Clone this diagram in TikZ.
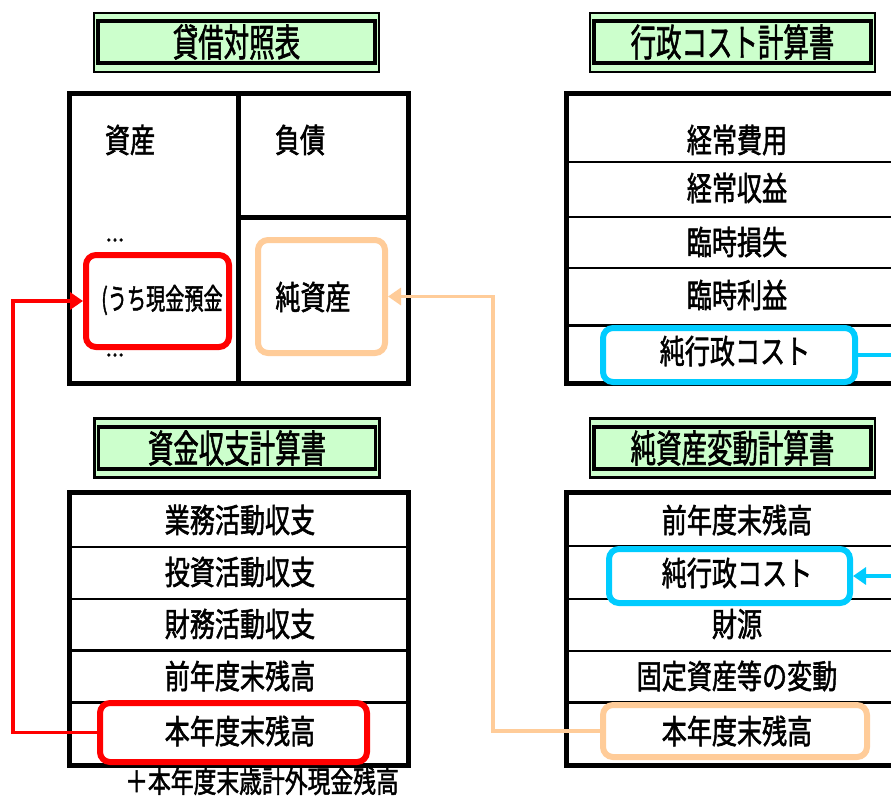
\documentclass[tikz,border=0pt]{standalone}
\usepackage{graphicx}
\usepackage{fontspec}
\newfontfamily\jp[FakeBold=1.8]{Noto Sans CJK JP}
\usetikzlibrary{arrows.meta}
\definecolor{tgreen}{HTML}{CCFFCC}
\definecolor{cred}{HTML}{FF0000}
\definecolor{corange}{HTML}{FFCC99}
\definecolor{cblue}{HTML}{00CCFF}
\newcommand\titlefont{\jp\fontsize{38}{38}\selectfont}
\newcommand\cellfont{\jp\fontsize{33}{33}\selectfont}
\newcommand\smallfont{\jp\fontsize{29}{29}\selectfont}
\newcommand\notefont{\jp\fontsize{30}{30}\selectfont}
\newcommand\tsx[1]{\scalebox{0.67}[1]{#1}}
\newcommand\csx[1]{\scalebox{0.76}[1]{#1}}
\tikzset{
  titleouter/.style={draw=black, line width=2.5pt, fill=tgreen, minimum width=285pt, minimum height=59pt, inner sep=0pt},
  titleinner/.style={draw=black, line width=3.5pt, minimum width=277pt, minimum height=42pt, inner sep=0pt, font=\titlefont},
  tableborder/.style={draw=black, line width=5pt},
  thinrow/.style={draw=black, line width=1.3pt},
  thickrow/.style={draw=black, line width=3pt},
  cell/.style={inner sep=0pt, font=\cellfont},
  hlbox/.style={fill=white, line width=6pt, rounded corners=10pt, inner sep=0pt},
  redbox/.style={hlbox, draw=cred},
  orangebox/.style={hlbox, draw=corange},
  bluebox/.style={hlbox, draw=cblue},
  conn/.style={line width=3.5pt, -{Triangle[length=13pt,width=17pt]}},
}
\begin{document}
\begin{tikzpicture}[x=1pt,y=-1pt]
\useasboundingbox (0,0) rectangle (891,796);
\clip (0,0) rectangle (891,796);
\fill[white] (0,0) rectangle (891,796);

% ---------- titles ----------
\node[titleouter] (t1o) at (236.5,42.5) {};
\node[titleinner] (t1) at (236.5,42) {\tsx{貸借対照表}};
\node[titleouter] (t2o) at (732.5,42.5) {};
\node[titleinner] (t2) at (732.5,42) {\tsx{行政コスト計算書}};
\node[titleouter] (t3o) at (237,448) {};
\node[titleinner] (t3) at (237,448) {\tsx{資金収支計算書}};
\node[titleouter] (t4o) at (732.5,448) {};
\node[titleinner] (t4) at (732.5,448) {\tsx{純資産変動計算書}};

% ---------- table 1: balance sheet ----------
\draw[tableborder] (69,93) rectangle (408,383);
\draw[tableborder] (238,93) -- (238,383);
\draw[tableborder] (238,217) -- (408,217);
\node[cell] (bs1) at (130,140) {\csx{資産}};
\node[cell] (bs2) at (300,140) {\csx{負債}};
\node[inner sep=0pt, font=\jp\fontsize{22}{22}\selectfont] (dots1) at (115,240) {...};
\node[inner sep=0pt, font=\jp\fontsize{22}{22}\selectfont] (dots2) at (115,355) {...};
\node[redbox, minimum width=143pt, minimum height=92pt] (red1) at (157.5,301) {};
\node[inner sep=0pt, font=\smallfont] (cash) at (162,300) {\scalebox{0.66}[1]{(うち現金預金}};
\node[orangebox, minimum width=127pt, minimum height=113pt] (or1) at (321.5,296.5) {};
\node[cell] (na) at (313,297) {\csx{純資産}};

% ---------- table 2: cost statement ----------
\draw[tableborder] (566,93) rectangle (910,383);
\draw[thinrow] (566,162) -- (910,162);
\draw[thinrow] (566,217) -- (910,217);
\draw[thinrow] (566,268) -- (910,268);
\draw[thickrow] (566,325) -- (910,325);
\node[cell] (c1) at (737,140) {\csx{経常費用}};
\node[cell] (c2) at (737,188) {\csx{経常収益}};
\node[cell] (c3) at (737,242) {\csx{臨時損失}};
\node[cell] (c4) at (737,295) {\csx{臨時利益}};
\node[bluebox, minimum width=252pt, minimum height=54pt] (blue1) at (729,355) {};
\node[cell] (c5) at (735,351) {\csx{純行政コスト}};

% ---------- table 3: cash flow ----------
\draw[tableborder] (69,492) rectangle (408,765);
\draw[thinrow] (69,547) -- (408,547);
\draw[thinrow] (69,599) -- (408,599);
\draw[thickrow] (69,650) -- (408,650);
\draw[thickrow] (69,702) -- (408,702);
\node[cell] (f1) at (240,520) {\csx{業務活動収支}};
\node[cell] (f2) at (240,572) {\csx{投資活動収支}};
\node[cell] (f3) at (240,624) {\csx{財務活動収支}};
\node[cell] (f4) at (240,676) {\csx{前年度末残高}};
\node[redbox, minimum width=267pt, minimum height=59pt] (red2) at (233.5,732.5) {};
\node[cell] (f5) at (240,731) {\csx{本年度末残高}};
\node[inner sep=0pt, font=\notefont] (note) at (262,781) {\scalebox{0.76}[1]{＋本年度末歳計外現金残高}};

% ---------- table 4: net assets change ----------
\draw[tableborder] (566,492) rectangle (910,765);
\draw[thinrow] (566,546) -- (910,546);
\draw[thinrow] (566,599) -- (910,599);
\draw[line width=2pt] (566,651) -- (910,651);
\draw[thickrow] (566,702) -- (910,702);
\node[cell] (n1) at (737,520) {\csx{前年度末残高}};
\node[bluebox, minimum width=241pt, minimum height=54pt] (blue2) at (729.5,576) {};
\node[cell] (n2) at (737,573) {\csx{純行政コスト}};
\node[cell] (n3) at (737,624) {\csx{財源}};
\node[cell] (n4) at (737,676) {\csx{固定資産等の変動}};
\node[orangebox, minimum width=264pt, minimum height=52pt] (or2) at (735,731) {};
\node[cell] (n5) at (737,731) {\csx{本年度末残高}};

% ---------- connectors ----------
\coordinate (redx) at (13,0);
\coordinate (orx) at (493,0);
\coordinate (bluex) at (905,0);
\draw[conn, draw=cred] (red2.west) -- (red2.west -| redx) |- (red1.west);
\draw[conn, draw=corange] (or2.west) -- (or2.west -| orx) |- (or1.east);
\draw[conn, draw=cblue] (blue1.east) -- (blue1.east -| bluex) |- (blue2.east);
\end{tikzpicture}
\end{document}
